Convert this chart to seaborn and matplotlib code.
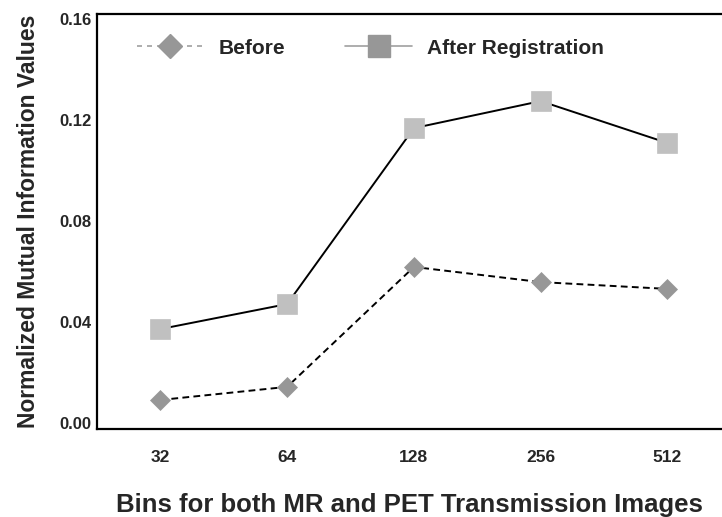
import matplotlib
matplotlib.use('Agg')
import matplotlib.pyplot as plt
from matplotlib.lines import Line2D
import pandas as pd
import seaborn as sns

bins = ['32', '64', '128', '256', '512']
before = [0.0091, 0.0143, 0.0618, 0.0558, 0.0531]
after_registration = [0.0372, 0.0471, 0.1168, 0.1275, 0.1109]
y_ticks = [0.00, 0.04, 0.08, 0.12, 0.16]

my_data = pd.DataFrame({'Bins': bins, 'Before': before, 'After': after_registration})

sns.set_style('white')
plt.rcParams['font.family'] = ['Liberation Sans', 'DejaVu Sans']
plt.rcParams['font.weight'] = 'bold'

fig = plt.figure(figsize=(7.22, 5.17), dpi=100)
ax = fig.add_axes([0.1343, 0.1702, 0.8657, 0.8027])

sns.lineplot(x='Bins', y='After', data=my_data, ax=ax, sort=False,
             color='black', linewidth=1.4, linestyle='-',
             marker='s', markersize=15, markerfacecolor='#c0c0c0',
             markeredgecolor='#c0c0c0', markeredgewidth=0.5)
sns.lineplot(x='Bins', y='Before', data=my_data, ax=ax, sort=False,
             color='black', linewidth=1.4, linestyle=(0, (3.5, 2.2)),
             marker='D', markersize=10.5, markerfacecolor='#979797',
             markeredgecolor='#979797', markeredgewidth=0.5)

ax.set_xlim(-0.5, 4.43)
ax.set_ylim(-0.0024, 0.162)
ax.set_yticks(y_ticks)
ax.set_yticklabels(['%.2f' % v for v in y_ticks])
ax.tick_params(axis='y', length=0, pad=4, labelsize=12)
ax.tick_params(axis='x', length=0, pad=15, labelsize=12.5)
for lab in ax.get_xticklabels() + ax.get_yticklabels():
  lab.set_fontweight('bold')

ax.set_xlabel('Bins for both MR and PET Transmission Images', fontsize=18.5,
              fontweight='bold', labelpad=20)
ax.set_ylabel('Normalized Mutual Information Values', fontsize=16.5,
              fontweight='bold', labelpad=14)

for side in ['left', 'bottom', 'top']:
  ax.spines[side].set_linewidth(1.6)
  ax.spines[side].set_color('black')
ax.spines['right'].set_visible(False)

handles = [
  Line2D([], [], color='#a0a0a0', linewidth=1.2, linestyle=(0, (3, 3)),
         marker='D', markersize=12, markerfacecolor='#979797', markeredgecolor='#979797'),
  Line2D([], [], color='#a0a0a0', linewidth=1.2, linestyle='-',
         marker='s', markersize=16.5, markerfacecolor='#979797', markeredgecolor='#979797'),
]
ax.legend(handles, ['Before', 'After Registration'], loc='center left',
          bbox_to_anchor=(0.064, 0.918), ncol=2, frameon=False,
          prop={'size': 15, 'weight': 'bold'}, handlelength=3.2,
          handletextpad=0.7, columnspacing=2.9, borderaxespad=0, borderpad=0)

plt.savefig('out.png', dpi=100)
